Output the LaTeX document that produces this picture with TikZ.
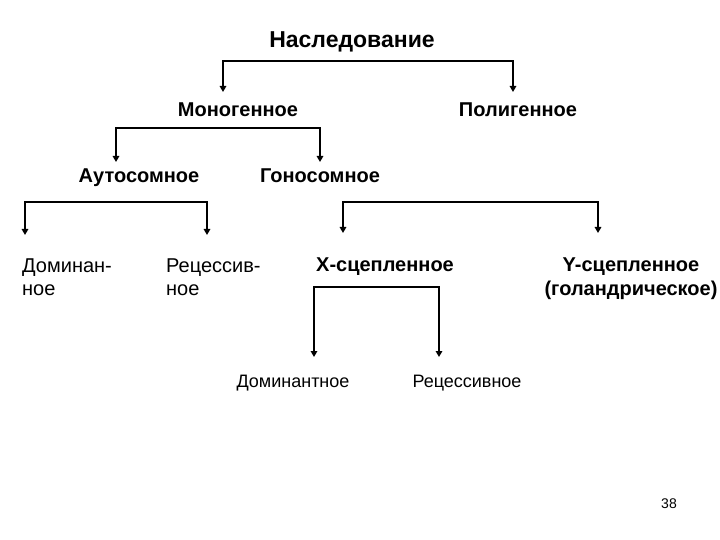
\documentclass[tikz,border=0pt]{standalone}
\usepackage{fontspec}
\setmainfont{Liberation Sans}
\usetikzlibrary{arrows.meta}
\begin{document}
\begin{tikzpicture}[x=1pt,y=-1pt,
  conn/.style={line width=1.8pt,line join=miter,{Triangle[length=6pt,width=6.5pt]}-{Triangle[length=6pt,width=6.5pt]}},
  bl/.style={font=\bfseries\fontsize{20}{23.5}\selectfont,inner sep=0pt,anchor=base},
  rg/.style={font=\fontsize{20}{23.5}\selectfont,inner sep=0pt,align=left,anchor=base west},
  sm/.style={font=\fontsize{18}{21}\selectfont,inner sep=0pt,anchor=base}]
\useasboundingbox (0,0) rectangle (720,540);
\node[bl,font=\bfseries\fontsize{23}{27}\selectfont] (root) at (352,48) {Наследование};
\node[bl] (mono) at (238,117) {Моногенное};
\node[bl] (poly) at (518,117) {Полигенное};
\node[bl] (auto) at (139,183) {Аутосомное};
\node[bl] (gono) at (320,183) {Гоносомное};
\node[rg] (dom1) at (22,295.5) {Доминан-\\ное};
\node[rg] (rec1) at (166,295.5) {Рецессив-\\ное};
\node[bl] (xl) at (385,271) {X-сцепленное};
\node[bl,align=center] (yl) at (631,295) {Y-сцепленное\\(голандрическое)};
\node[sm] (dom2) at (293,387) {Доминантное};
\node[sm] (rec2) at (467,387) {Рецессивное};
\node[font=\fontsize{14}{16}\selectfont,inner sep=0pt,anchor=base] (pg) at (669,508) {38};
% connectors
\coordinate (a1) at (223,92); \coordinate (a2) at (223,61);
\coordinate (a3) at (513,61); \coordinate (a4) at (513,92);
\draw[conn] (a1) -- (a2) -- (a3) -- (a4);
\coordinate (b1) at (116,162); \coordinate (b2) at (116,128);
\coordinate (b3) at (320,128); \coordinate (b4) at (320,162);
\draw[conn] (b1) -- (b2) -- (b3) -- (b4);
\coordinate (c1) at (25,235); \coordinate (c2) at (25,202);
\coordinate (c3) at (207,202); \coordinate (c4) at (207,235);
\draw[conn] (c1) -- (c2) -- (c3) -- (c4);
\coordinate (d1) at (343,233); \coordinate (d2) at (343,202);
\coordinate (d3) at (598,202); \coordinate (d4) at (598,233);
\draw[conn] (d1) -- (d2) -- (d3) -- (d4);
\coordinate (e1) at (314,357); \coordinate (e2) at (314,287);
\coordinate (e3) at (439,287); \coordinate (e4) at (439,357);
\draw[conn] (e1) -- (e2) -- (e3) -- (e4);
\end{tikzpicture}
\end{document}
